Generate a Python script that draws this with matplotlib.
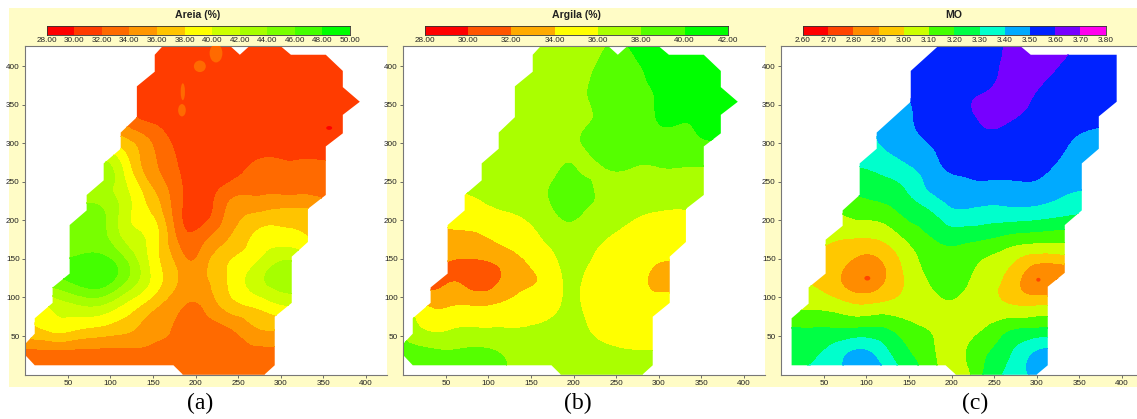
"""Soil maps: sand, clay and organic matter (filled contours clipped to the field outline)."""
import numpy as np
import matplotlib
matplotlib.use("Agg")
import matplotlib.pyplot as plt
import matplotlib.tri as mtri
from matplotlib.patches import Ellipse, Polygon, Rectangle

plt.rcParams["font.family"] = ["Liberation Sans", "DejaVu Sans"]

W, H = 1137, 419
BEIGE = "#fffcc6"

# Field grid at these positions
xs = [0, 30, 60, 90, 120, 150, 180, 195, 210, 240, 270, 300, 330, 360, 400]
ys = [0, 30, 60, 90, 120, 150, 180, 210, 240, 270, 300, 330, 360, 390, 430]

areia = [
    [33.3, 33.3, 33.3, 33, 32.5, 32.5, 32.5, 32.5, 32.5, 32.5, 32.5, 32.5, 32.5, 32.5, 32.5],
    [33.4, 33.6, 33.5, 33.5, 33.5, 33.6, 33.4, 33.3, 33.3, 33.3, 33.4, 33.6, 33.6, 33.6, 33.6],
    [37, 38.5, 38.2, 37.5, 36.5, 34.6, 33.8, 33.4, 33.6, 33.9, 35.8, 36.2, 36.5, 36, 36],
    [39, 40.3, 41.7, 41.8, 39.3, 36.6, 34.3, 33.8, 34.2, 37, 38.3, 39.8, 40, 39, 39],
    [45, 45, 46.3, 46.9, 43.5, 39.3, 35.8, 34.8, 35.4, 38.2, 41, 42.8, 43, 42, 42],
    [46, 46, 46.2, 46.5, 43.5, 39, 35, 33.8, 35, 37.8, 39.5, 41.6, 41, 40, 40],
    [45, 45, 45, 44.6, 41, 39, 33.3, 32.2, 33.2, 35.8, 38.2, 38.7, 38, 37, 37],
    [44, 44, 44, 44.2, 40.4, 37.6, 32.5, 31, 31, 34.6, 35.9, 36.5, 36.5, 35.5, 35],
    [44, 44, 44, 43, 40, 36, 32.5, 31, 30.9, 32.8, 33.5, 33.4, 33.4, 33, 33],
    [42, 42, 42, 43, 38.6, 34.4, 31.9, 30.6, 30.6, 30.7, 32.4, 32.5, 32.5, 32.4, 32],
    [38, 38, 38, 38, 36.5, 33.8, 31.3, 30.7, 30.7, 30.6, 30.6, 30.6, 30.6, 30.6, 30.6],
    [35, 35, 35, 35, 33, 31.6, 30.9, 30.8, 30.8, 30.8, 30.8, 30.8, 30.8, 30.8, 30.8],
    [31.5, 31.5, 31.5, 31.5, 31.5, 31, 31, 31, 31, 31, 31, 31, 31, 31, 31],
    [31, 31, 31, 31, 31, 31, 31, 31, 31, 31, 31, 31, 31, 31, 31],
    [31, 31, 31, 31, 31, 31, 31, 31, 31, 31, 31, 31, 31, 31, 31],
]

argila = [
    [38.6, 38.6, 38.6, 38.6, 38, 37.3, 36.5, 36.5, 36.5, 36.5, 36.5, 36.5, 36.5, 36.5, 36.5],
    [38.6, 38.3, 38.1, 38.3, 37.7, 37.4, 37, 36.8, 36.5, 36.2, 36.05, 36.1, 36.1, 36.1, 36.1],
    [37.7, 35.6, 35.9, 36, 36, 36.1, 36.6, 36.8, 36.3, 35.4, 35, 35, 35, 35, 35],
    [36.5, 33.8, 33.9, 33.8, 34.3, 35, 35.7, 36.3, 35.9, 35, 34.8, 34.7, 34.8, 34.8, 34.8],
    [34, 31.5, 32, 31, 32.5, 33.8, 35.3, 36.3, 35.9, 35.2, 34.8, 33.5, 33.3, 33.5, 33.5],
    [33, 32.5, 32, 32, 32.9, 34.4, 35.9, 36.6, 36.4, 35.4, 35, 34.2, 34.2, 34.5, 34.5],
    [33, 33, 33.4, 33.8, 34.8, 35.6, 36.7, 37, 37, 36.05, 35.4, 35.1, 35.1, 35.2, 35.2],
    [35, 35, 35.2, 35.3, 35.9, 36.4, 38, 38.6, 38, 37.1, 36.3, 35.9, 35.8, 36, 36],
    [36, 36, 36, 36.4, 37, 37.2, 38.5, 38.9, 38.6, 37.4, 37.1, 37, 37, 37, 37],
    [37, 37, 36.9, 36.9, 37, 37, 37.6, 38.1, 37.7, 38.1, 38, 38, 38, 38, 38],
    [37, 37, 37, 37, 37, 37, 37.2, 37.6, 38, 38.8, 39, 39.2, 39.5, 39.8, 39.9],
    [37, 37, 37, 37, 37, 37, 37.2, 37.5, 37.7, 38.4, 38.9, 40.05, 40.05, 40.5, 40.5],
    [37, 37, 37, 37, 37, 37, 37, 37.2, 37.7, 38.7, 39.2, 40.2, 41, 41, 41],
    [37, 37, 37, 37, 37, 37, 37, 37.2, 37.5, 38.8, 39.5, 40.6, 41, 41, 41],
    [37, 37, 37, 37, 37, 37, 36.8, 37, 36.9, 38, 40.5, 41, 41, 41, 41],
]

mo = [
    [3.3, 3.32, 3.35, 3.45, 3.42, 3.25, 3.12, 3.05, 3.03, 3.22, 3.33, 3.42, 3.45, 3.45, 3.45],
    [3.25, 3.27, 3.33, 3.41, 3.33, 3.2, 3.1, 3.02, 3.06, 3.18, 3.29, 3.4, 3.42, 3.42, 3.42],
    [3.2, 3.2, 3.2, 3.2, 3.2, 3.13, 3.07, 3.04, 3.05, 3.1, 3.18, 3.2, 3.2, 3.2, 3.2],
    [3.08, 3.07, 3.05, 3.0, 3.02, 3.04, 3.06, 3.08, 3.07, 3.04, 3.0, 2.99, 2.99, 2.99, 2.99],
    [3.0, 3.0, 2.94, 2.83, 2.89, 3.02, 3.12, 3.15, 3.13, 3.04, 2.95, 2.82, 2.8, 2.8, 2.8],
    [3.0, 3.0, 2.97, 2.88, 2.91, 3.05, 3.15, 3.17, 3.16, 3.09, 3.02, 2.94, 2.95, 2.95, 2.95],
    [3.02, 3.02, 3.01, 3.01, 3.03, 3.13, 3.21, 3.24, 3.24, 3.22, 3.18, 3.16, 3.15, 3.15, 3.15],
    [3.09, 3.09, 3.09, 3.13, 3.15, 3.23, 3.3, 3.36, 3.38, 3.36, 3.36, 3.35, 3.32, 3.3, 3.3],
    [3.2, 3.2, 3.2, 3.22, 3.25, 3.31, 3.42, 3.44, 3.46, 3.47, 3.47, 3.47, 3.42, 3.4, 3.4],
    [3.3, 3.3, 3.3, 3.3, 3.33, 3.39, 3.47, 3.51, 3.52, 3.53, 3.53, 3.52, 3.48, 3.44, 3.44],
    [3.35, 3.35, 3.35, 3.35, 3.41, 3.47, 3.51, 3.53, 3.54, 3.57, 3.56, 3.54, 3.51, 3.48, 3.48],
    [3.4, 3.4, 3.4, 3.4, 3.44, 3.49, 3.53, 3.54, 3.56, 3.61, 3.6, 3.57, 3.53, 3.51, 3.51],
    [3.45, 3.45, 3.45, 3.45, 3.47, 3.5, 3.53, 3.54, 3.57, 3.61, 3.63, 3.59, 3.55, 3.53, 3.53],
    [3.47, 3.47, 3.47, 3.47, 3.48, 3.51, 3.53, 3.53, 3.54, 3.56, 3.64, 3.63, 3.58, 3.55, 3.54],
    [3.47, 3.47, 3.47, 3.47, 3.48, 3.5, 3.52, 3.52, 3.53, 3.54, 3.63, 3.65, 3.63, 3.58, 3.56],
]

# Field outlines
outline_ab_x = [0, 11, 174, 185, 281, 293, 293, 313, 313, 332, 332, 353, 353, 373, 373, 393, 373, 373,
                353, 312, 299, 264, 252, 240, 162, 152, 152, 131, 131, 112, 112, 92, 92, 72, 72, 52,
                52, 32, 32, 11, 11, 0]
outline_ab_y = [25, 12, 12, 0, 0, 12, 75, 93, 153, 172, 215, 233, 296, 313, 337, 354, 373, 394,
                415, 415, 427, 427, 415, 427, 427, 415, 393, 374, 334, 314, 293, 274, 252, 233, 213, 194,
                131, 113, 93, 73, 53, 40]
outline_c_x = [12, 12, 32, 32, 52, 52, 72, 72, 92, 92, 112, 112, 152, 152, 185, 280, 293, 394, 394,
               373, 373, 353, 353, 333, 333, 313, 313, 300, 205, 193]
outline_c_y = [12, 73, 92, 113, 131, 175, 193, 213, 233, 274, 293, 314, 354, 394, 427, 427, 415, 415,
               354, 335, 293, 274, 213, 194, 132, 114, 12, 0, 0, 12]

# Small isolated patches
spots_a_x = [224, 205, 185, 184, 357]
spots_a_y = [417, 400, 367, 343, 320]
spots_a_w = [15, 14, 5, 9, 7]
spots_a_h = [24, 15, 22, 16, 5]
spots_a_c = ["#ff6a00", "#ff6a00", "#ff6a00", "#ff6a00", "#ff0000"]
spots_c_x = [101, 302]
spots_c_y = [125, 123]
spots_c_w = [7, 5]
spots_c_h = [6, 5]
spots_c_c = ["#ff4400", "#ff4400"]

# Colour classes
levels_a = [28, 30, 32, 34, 36, 38, 40, 42, 44, 46, 48, 50]
colors_a = ["#ff0000", "#ff3c00", "#ff6a00", "#ff9600", "#ffc400", "#ffff00",
            "#ccff00", "#a6ff00", "#78ff00", "#44ff00", "#00ff00"]
levels_b = [28, 30, 32, 34, 36, 38, 40, 42]
colors_b = ["#ff0000", "#ff5500", "#ffaa00", "#ffff00", "#aaff00", "#55ff00", "#00ff00"]
levels_c = [2.6, 2.7, 2.8, 2.9, 3.0, 3.1, 3.2, 3.3, 3.4, 3.5, 3.6, 3.7, 3.8]
colors_c = ["#ff0000", "#ff4400", "#ff8c00", "#ffc800", "#ccff00", "#44ff00", "#00ff44",
            "#00ffcc", "#00aaff", "#0022ff", "#7700ff", "#ff00ee"]

ticks = [50, 100, 150, 200, 250, 300, 350, 400]


def px_axes(fig, left, top, right, bottom):
    return fig.add_axes([left / W, 1 - bottom / H, (right - left) / W, (bottom - top) / H])


def panel(fig, field, levels, colors, out_x, out_y, spots, title, caption, ax_left, ax_right, bar_left, bar_right,
          title_x, cap_x):
    # data x=0 sits 0.7 px inside the axes, 0.851 px per unit in x and 0.7706 in y
    ax = px_axes(fig, ax_left, 45.5, ax_right, 375)
    ax.set_xlim(-0.8, -0.8 + (ax_right - ax_left) / 0.851)
    ax.set_ylim(-0.6, 427)
    # let matplotlib's refiner round off the contours between the read values
    gx, gy = np.meshgrid(xs, ys)
    tri = mtri.Triangulation(gx.ravel(), gy.ravel())
    tri_fine, z_fine = mtri.UniformTriRefiner(tri).refine_field(np.array(field).ravel(), subdiv=3)
    cs = ax.tricontourf(tri_fine, z_fine, levels=levels, colors=colors)
    cs.set_edgecolor("face")
    cs.set_linewidth(0.3)
    clip = Polygon(np.column_stack([out_x, out_y]), closed=True, fc="none", ec="none", transform=ax.transData)
    ax.add_patch(clip)
    cs.set_clip_path(clip)
    for sx, sy, sw, sh, sc in zip(*spots):
        e = Ellipse((sx, sy), sw, sh, fc=sc, ec="none", zorder=3)
        ax.add_patch(e)
        e.set_clip_path(clip)
    ax.set_xticks(ticks)
    ax.set_yticks(ticks)
    ax.tick_params(length=2, width=0.6, color="#555555", labelsize=5.9, pad=1.5, labelcolor="#222222")
    ax.spines["right"].set_visible(False)
    for s in ["left", "top", "bottom"]:
        ax.spines[s].set_color("#777777")
        ax.spines[s].set_linewidth(0.8)

    # colour bar
    cax = px_axes(fig, bar_left, 26, bar_right, 35)
    cax.pcolormesh(levels, [0, 1], [list(range(len(colors)))], cmap=matplotlib.colors.ListedColormap(colors))
    cax.set_yticks([])
    cax.set_xticks(levels)
    cax.set_xticklabels([f"{v:.2f}" for v in levels])
    cax.tick_params(length=0, labelsize=5.9, pad=1.2, labelcolor="#222222")
    for s in cax.spines.values():
        s.set_linewidth(0.6)
        s.set_color("#333333")

    fig.text(title_x / W, 1 - 14.7 / H, title, ha="center", va="center", fontsize=7.6, fontweight="bold",
             color="#222222")
    fig.text(cap_x / W, 1 - 403 / H, caption, ha="center", va="center", fontsize=17, family="Liberation Serif",
             color="black")


fig = plt.figure(figsize=(W / 100, H / 100), dpi=100, facecolor="white")
for left, right in [(9, 387), (387, 765), (765, 1137)]:
    fig.add_artist(Rectangle((left / W, 1 - 387 / H), (right - left) / W, 379 / H, transform=fig.transFigure,
                             fc=BEIGE, ec="none", zorder=-1))

panel(fig, areia, levels_a, colors_a, outline_ab_x, outline_ab_y,
      (spots_a_x, spots_a_y, spots_a_w, spots_a_h, spots_a_c),
      "Areia (%)", "(a)", 24.7, 387, 46.7, 350, 198, 200)
panel(fig, argila, levels_b, colors_b, outline_ab_x, outline_ab_y, ([], [], [], [], []),
      "Argila (%)", "(b)", 402.7, 765, 424.7, 728, 576.7, 578)
panel(fig, mo, levels_c, colors_c, outline_c_x, outline_c_y,
      (spots_c_x, spots_c_y, spots_c_w, spots_c_h, spots_c_c),
      "MO", "(c)", 780.7, 1137, 803, 1105.7, 954, 975)

fig.savefig("out.png", dpi=100)
